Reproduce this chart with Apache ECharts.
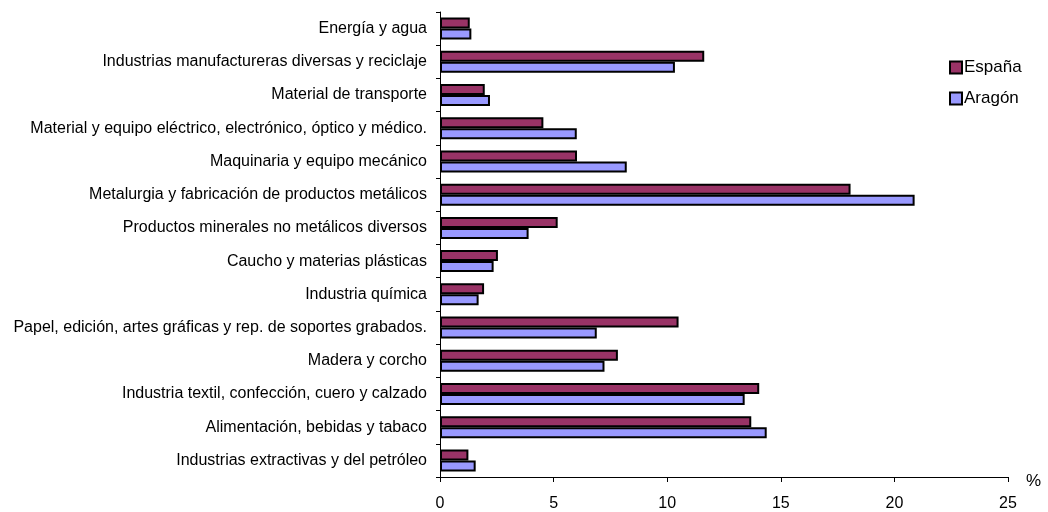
<!DOCTYPE html>
<html>
<head>
<meta charset="utf-8">
<script src="https://cdn.jsdelivr.net/npm/echarts@6/dist/echarts.min.js"></script>
<style>
  html, body { margin: 0; padding: 0; background: #fff; }
  #chart { width: 1048px; height: 512px; }
</style>
</head>
<body>
<div id="chart"></div>
<script>
// categories, bottom to top
const sectores = [
  'Industrias extractivas y del petróleo',
  'Alimentación, bebidas y tabaco',
  'Industria textil, confección, cuero y calzado',
  'Madera y corcho',
  'Papel, edición, artes gráficas y rep. de soportes grabados.',
  'Industria química',
  'Caucho y materias plásticas',
  'Productos minerales no metálicos diversos',
  'Metalurgia y fabricación de productos metálicos',
  'Maquinaria y equipo mecánico',
  'Material y equipo eléctrico, electrónico, óptico y médico.',
  'Material de transporte',
  'Industrias manufactureras diversas y reciclaje',
  'Energía y agua'
]
const espana = [1.25, 13.7, 14.05, 7.83, 10.5, 1.94, 2.55, 5.18, 18.07, 6.03, 4.55, 1.97, 11.63, 1.31]
const aragon = [1.57, 14.38, 13.41, 7.24, 6.9, 1.7, 2.36, 3.9, 20.89, 8.22, 6.02, 2.2, 10.34, 1.38]
const xTicks = [0, 5, 10, 15, 20, 25]

const chart = echarts.init(document.getElementById('chart'))
const font = 'Liberation Sans, Arial, sans-serif'

const option = {
  animation: false,
  textStyle: { fontFamily: font },
  grid: {
    left: 440,
    right: 40,
    top: 12,
    bottom: 35
  },
  legend: {
    data: ['España', 'Aragón'],
    orient: 'vertical',
    left: 944,
    top: 54,
    itemWidth: 12,
    itemHeight: 12,
    itemGap: 14,
    icon: 'rect',
    textStyle: { fontSize: 17, color: '#000', fontFamily: font, padding: [0, 0, 0, -3] }
  },
  xAxis: {
    type: 'value',
    min: xTicks[0],
    max: xTicks[xTicks.length - 1],
    interval: 5,
    name: '%',
    nameLocation: 'end',
    nameGap: 18,
    nameTextStyle: { fontSize: 17, color: '#000', verticalAlign: 'top', padding: [-4, 0, 0, 0] },
    axisLine: { show: true, lineStyle: { color: '#000', width: 1 } },
    axisTick: { show: true, length: 5, lineStyle: { color: '#000' } },
    axisLabel: { fontSize: 16, color: '#000', margin: 19 },
    splitLine: { show: false }
  },
  yAxis: {
    type: 'category',
    data: sectores,
    axisLine: { show: true, lineStyle: { color: '#000', width: 1 } },
    axisTick: { show: true, length: 4, inside: false, lineStyle: { color: '#000' } },
    axisLabel: { fontSize: 16, color: '#000', margin: 13 },
    splitLine: { show: false }
  },
  series: [
    {
      name: 'España',
      type: 'bar',
      data: espana,
      barWidth: 11,
      barGap: '0%',
      itemStyle: { color: '#993366', borderColor: '#000', borderWidth: 2 }
    },
    {
      name: 'Aragón',
      type: 'bar',
      data: aragon,
      barWidth: 11,
      barGap: '0%',
      itemStyle: { color: '#9999FF', borderColor: '#000', borderWidth: 2 }
    }
  ]
}

chart.setOption(option)
</script>
</body>
</html>
